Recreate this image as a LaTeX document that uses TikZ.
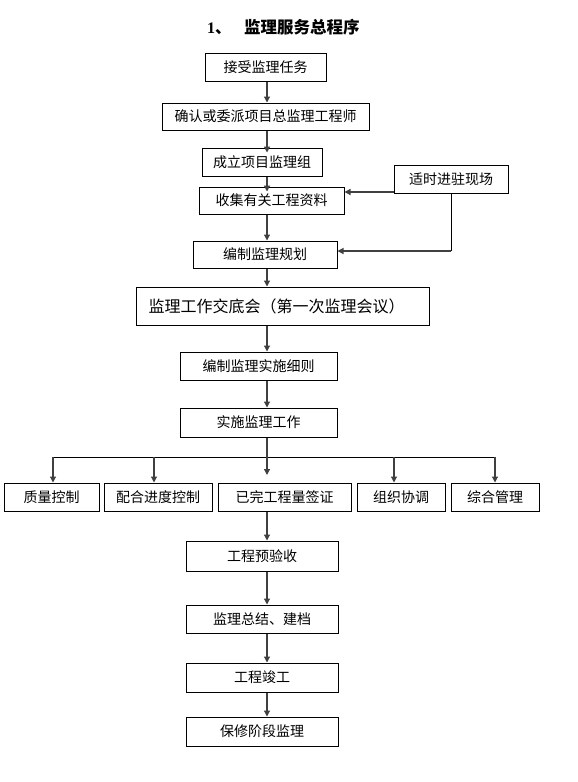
\documentclass[tikz,border=0pt]{standalone}
\usepackage{fontspec}
\newfontfamily\cjk{Noto Sans CJK SC}
\setmainfont{Liberation Serif}
\usetikzlibrary{arrows.meta}
\tikzset{
  box/.style={draw=black, line width=1pt, inner sep=0pt, minimum height=28pt,
    font=\cjk\fontsize{14}{16}\selectfont, anchor=center},
  arr/.style={draw=black!75, line width=1.2pt, -{Triangle[length=6pt,width=6pt]}},
  ln/.style={draw=black, line width=1pt},
}
\begin{document}
\begin{tikzpicture}[x=1pt,y=-1pt]
\useasboundingbox (0,0) rectangle (578,782);
% title
\node[anchor=west, inner sep=0pt] (title) at (207,27)
  {{\bfseries\fontsize{16}{18}\selectfont 1}{\cjk\bfseries\fontsize{16}{18}\selectfont 、}\hspace{13pt}{\cjk\bfseries\fontsize{16.5}{18}\selectfont 监理服务总程序}};
% main column
\node[box, minimum width=121pt] (b1) at (265.5,67) {接受监理任务};
\node[box, minimum width=207pt, minimum height=27pt] (b2) at (265.5,116.5) {确认或委派项目总监理工程师};
\node[box, minimum width=120pt] (b3) at (262,162) {成立项目监理组};
\node[box, minimum width=145pt, minimum height=27pt] (b4) at (271.5,200.5) {收集有关工程资料};
\node[box, minimum width=114pt] (bs) at (451,179) {适时进驻现场};
\node[box, minimum width=144pt, minimum height=27pt] (b5) at (265,254.5) {编制监理规划};
\node[box, minimum width=293pt, minimum height=38pt, font=\cjk\fontsize{16}{18}\selectfont] (b6) at (282.5,306) {\hspace{-12pt}监理工作交底会（第一次监理会议）};
\node[box, minimum width=157pt] (b7) at (258.5,366) {编制监理实施细则};
\node[box, minimum width=157pt, minimum height=29pt] (b8) at (258.5,422.5) {实施监理工作};
% row
\node[box, minimum width=95pt] (q1) at (51.5,497) {质量控制};
\node[box, minimum width=108pt] (q2) at (158,497) {配合进度控制};
\node[box, minimum width=133pt] (q3) at (284.5,497) {已完工程量签证};
\node[box, minimum width=88pt] (q4) at (401,497) {组织协调};
\node[box, minimum width=88pt] (q5) at (495,497) {综合管理};
% lower column
\node[box, minimum width=152pt, minimum height=30pt] (c1) at (262,556) {工程预验收};
\node[box, minimum width=152pt] (c2) at (262,619) {监理总结、建档};
\node[box, minimum width=152pt, minimum height=29pt] (c3) at (262,677.5) {工程竣工};
\node[box, minimum width=152pt, minimum height=29pt] (c4) at (262,731.5) {保修阶段监理};
% spine
\coordinate (sp) at (267,0);
\draw[arr] (b1.south -| sp) -- (b2.north -| sp);
\draw[arr, shorten >=-5pt] (b2.south -| sp) -- (b3.north -| sp);
\draw[arr, shorten >=-5pt] (b3.south -| sp) -- (b4.north -| sp);
\draw[arr] (b4.south -| sp) -- (b5.north -| sp);
\draw[arr] (b5.south -| sp) -- (b6.north -| sp);
\draw[arr] (b6.south -| sp) -- (b7.north -| sp);
\draw[arr] (b7.south -| sp) -- (b8.north -| sp);
% side input
\coordinate (j1) at (394,192);
\draw[arr] (j1) -- (j1 -| b4.east);
\coordinate (j2) at (451,251);
\draw[ln] (bs.south) -- (j2);
\draw[arr] (j2) -- (j2 -| b5.east);
% branch
\coordinate (hb) at (267,457);
\coordinate (t1) at (53,457);
\coordinate (t2) at (154,457);
\coordinate (t4) at (394,457);
\coordinate (t5) at (495,457);
\coordinate (tm) at (267,475);
\draw[draw=black!75, line width=1.2pt] (b8.south -| sp) -- (hb);
\draw[ln] (t1) -- (t5);
\draw[arr] (t1) -- (t1 |- q1.north);
\draw[arr] (t2) -- (t2 |- q2.north);
\draw[arr] (t4) -- (t4 |- q4.north);
\draw[arr] (t5) -- (t5 |- q5.north);
\draw[arr] (hb) -- (tm);
% lower spine
\draw[arr] (q3.south -| sp) -- (c1.north -| sp);
\draw[arr] (c1.south -| sp) -- (c2.north -| sp);
\draw[arr] (c2.south -| sp) -- (c3.north -| sp);
\draw[arr] (c3.south -| sp) -- (c4.north -| sp);
\end{tikzpicture}
\end{document}
